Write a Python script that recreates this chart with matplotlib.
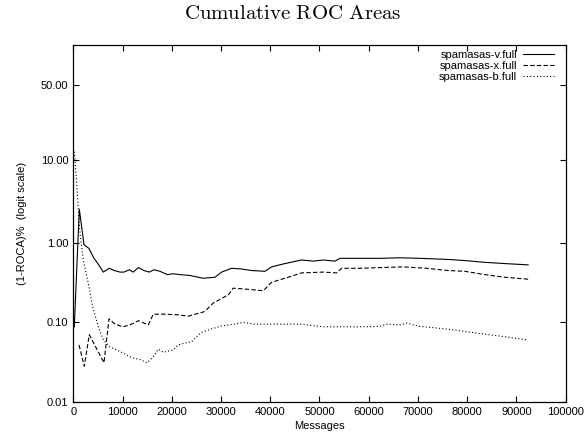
import matplotlib
matplotlib.use("Agg")
import matplotlib.pyplot as plt
from matplotlib.ticker import NullLocator, FixedLocator, FixedFormatter

plt.rcParams['font.family'] = ['Liberation Sans', 'DejaVu Sans']
plt.rcParams['mathtext.fontset'] = 'cm'

# (1-ROCA)% values, by message count
v_msgs = [200, 1220, 2170, 3190, 4200, 5080, 6090, 7310, 8320, 9480, 10290, 11370,
          12180, 13200, 14350, 15430, 16380, 17600, 19080, 20300, 21600, 23690, 25380,
          26390, 28770, 30130, 32150, 34180, 36220, 38920, 40270, 42980, 46370, 48720,
          50750, 53130, 54140, 58200, 62260, 66330, 70380, 76130, 79520, 83580, 87640, 92370]
v_vals = [0.088, 2.62, 0.95, 0.85, 0.64, 0.54, 0.43, 0.48, 0.45, 0.43, 0.43, 0.46,
          0.43, 0.49, 0.45, 0.43, 0.46, 0.44, 0.40, 0.41, 0.40, 0.39, 0.37,
          0.36, 0.37, 0.43, 0.48, 0.47, 0.45, 0.44, 0.50, 0.55, 0.61, 0.59,
          0.61, 0.59, 0.64, 0.64, 0.64, 0.65, 0.64, 0.62, 0.60, 0.57, 0.55, 0.53]

x_msgs = [1160, 2230, 3250, 6230, 7250, 8470, 10030, 11510, 13200, 15230, 16240, 18270,
          20990, 23350, 25380, 26700, 28400, 30100, 31470, 32480, 35880, 38570, 40270,
          43650, 46370, 50750, 53470, 54490, 58200, 62260, 67000, 71740, 76130, 79520,
          83580, 87640, 92370]
x_vals = [0.052, 0.028, 0.070, 0.031, 0.111, 0.095, 0.088, 0.093, 0.105, 0.093, 0.127, 0.127,
          0.125, 0.12, 0.13, 0.137, 0.175, 0.20, 0.222, 0.27, 0.26, 0.25, 0.32,
          0.37, 0.42, 0.43, 0.42, 0.48, 0.48, 0.49, 0.50, 0.48, 0.45, 0.44,
          0.40, 0.37, 0.35]

b_msgs = [200, 345, 690, 1015, 1360, 2030, 3045, 3940, 5080, 6090, 7450, 8810, 10150,
          11850, 13540, 15020, 16240, 17250, 18270, 20300, 21310, 22670, 24030, 25370,
          26070, 28100, 30130, 32150, 34510, 36890, 41620, 46370, 50750, 54140, 58200,
          62260, 63620, 66330, 67680, 70380, 73080, 76130, 79520, 83580, 87640, 92370]
b_vals = [12.5, 10.1, 5.4, 2.57, 1.32, 0.61, 0.31, 0.158, 0.088, 0.060, 0.049, 0.045, 0.041,
          0.036, 0.034, 0.031, 0.037, 0.046, 0.042, 0.045, 0.052, 0.055, 0.057, 0.069,
          0.075, 0.083, 0.090, 0.094, 0.100, 0.095, 0.095, 0.095, 0.088, 0.088, 0.088,
          0.089, 0.095, 0.093, 0.098, 0.089, 0.086, 0.082, 0.077, 0.071, 0.066, 0.060]

y_ticks = [0.01, 0.10, 1.00, 10.00, 50.00]
x_ticks = list(range(0, 100001, 10000))

fig = plt.figure(figsize=(5.85, 4.37), dpi=100)
ax = fig.add_axes([0.1253, 0.0808, 0.8417, 0.8162])

lw = 0.8
ax.plot(v_msgs, [v / 100 for v in v_vals], color='black', lw=lw, label='spamasas-v.full')
ax.plot(x_msgs, [v / 100 for v in x_vals], color='black', lw=lw, dashes=(4, 2),
        label='spamasas-x.full')
ax.plot(b_msgs, [v / 100 for v in b_vals], color='black', lw=lw, dashes=(1, 2),
        label='spamasas-b.full')

ax.set_yscale('logit')
ax.set_ylim(0.0001, 0.76)
ax.set_xlim(0, 100000)
ax.yaxis.set_major_locator(FixedLocator([t / 100 for t in y_ticks]))
ax.yaxis.set_major_formatter(FixedFormatter(['%.2f' % t for t in y_ticks]))
ax.yaxis.set_minor_locator(NullLocator())
ax.set_xticks(x_ticks)
ax.set_xticklabels([str(t) for t in x_ticks])

ax.tick_params(direction='in', length=4, width=0.8, labelsize=8, top=True, right=True,
               colors='black')
for s in ax.spines.values():
    s.set_linewidth(0.9)

ax.set_xlabel('Messages', fontsize=8, labelpad=3)
ax.set_ylabel('(1-ROCA)%  (logit scale)', fontsize=8, labelpad=10)

ax.legend(loc='upper right', frameon=False, fontsize=8, markerfirst=False,
          handlelength=2.8, labelspacing=0.1, handletextpad=0.5,
          borderaxespad=0.4, bbox_to_anchor=(0.994, 1.012))

fig.text(0.5, 0.968, r'$\mathrm{Cumulative\ ROC\ Areas}$', ha='center', va='center',
         fontsize=15)

fig.savefig('out.png', dpi=100)
